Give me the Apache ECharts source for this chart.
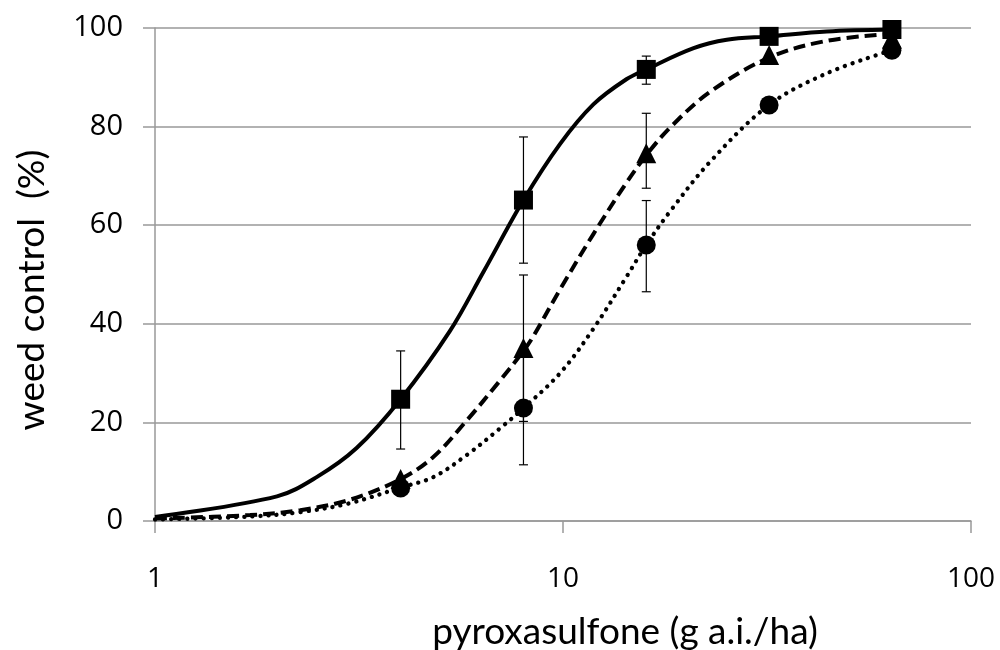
<!DOCTYPE html>
<html>
<head>
<meta charset="utf-8">
<script src="https://cdn.jsdelivr.net/npm/echarts@6/dist/echarts.min.js"></script>
<style>html,body{margin:0;padding:0;background:#fff;}#c{width:1000px;height:650px;}</style>
</head>
<body>
<div id="c"></div>
<script>
// Observed data points
var doses = [4, 8, 16, 32, 64];
var squareY = [24.7, 65.1, 91.6, 98.3, 99.7];
var triY = [8.5, 35.1, 74.6, 94.5, 97.8];
var circY = [6.7, 22.9, 56.0, 84.4, 95.5];

// Error bars (low, high); null = not visible
var squareLo = [14.6, 52.3, 88.6, null, null];
var squareHi = [34.5, 77.9, 94.3, null, null];
var triLo = [null, 20.2, 67.5, null, null];
var triHi = [null, 49.9, 82.7, null, null];
var circLo = [null, 11.4, 46.5, null, null];
var circHi = [null, 34.5, 65.0, null, null];

// Fitted curves
var solidX = [1, 1.99, 2.49, 3.12, 4, 5.28, 6.38, 8, 9.84, 11.87, 14.3, 16, 20.9, 25.2, 32, 44.3, 64];
var solidY = [0.8, 5.0, 8.9, 14.8, 24.7, 38.5, 50.5, 65.1, 76.5, 84.5, 89.6, 91.6, 95.9, 97.6, 98.3, 99.3, 99.7];
var dashX = [1, 1.71, 2.27, 3.0, 4, 4.81, 5.81, 7.01, 8, 8.46, 9.84, 11.87, 14.3, 16, 18.3, 22.9, 32, 44.3, 64];
var dashY = [0.5, 1.2, 2.2, 4.3, 8.5, 13.0, 20.4, 28.5, 34.5, 37.5, 47.0, 58.2, 68.6, 74.2, 79.8, 87.0, 94.0, 97.4, 98.8];
var dotX = [1, 1.71, 2.27, 3.0, 4, 4.81, 5.81, 7.01, 8, 9.84, 11.87, 14.3, 16, 18.3, 22.9, 32, 44.3, 64];
var dotY = [0.3, 0.9, 1.8, 3.6, 6.8, 8.9, 13.4, 18.8, 22.9, 30.0, 39.0, 49.5, 56.0, 62.8, 72.8, 84.4, 90.8, 95.5];

var yTicks = [0, 20, 40, 60, 80, 100];
var xTicks = [1, 10, 100];
var xTitle = 'pyroxasulfone (g a.i./ha)';
var yTitle = 'weed control  (%)';

function pairs(xs, ys) { return xs.map(function (x, i) { return [x, ys[i]]; }); }
function errData(lo, hi) {
  var out = [];
  doses.forEach(function (d, i) { if (lo[i] != null) out.push([d, lo[i], hi[i]]); });
  return out;
}
function errSeries(lo, hi) {
  return {
    type: 'custom',
    data: errData(lo, hi),
    z: 2,
    silent: true,
    renderItem: function (params, api) {
      var x = api.value(0);
      var a = api.coord([x, api.value(1)]);
      var b = api.coord([x, api.value(2)]);
      var w = 4.5;
      var st = { stroke: '#000', lineWidth: 1.2 };
      return {
        type: 'group',
        children: [
          { type: 'line', shape: { x1: a[0], y1: a[1], x2: b[0], y2: b[1] }, style: st },
          { type: 'line', shape: { x1: a[0] - w, y1: a[1], x2: a[0] + w, y2: a[1] }, style: st },
          { type: 'line', shape: { x1: b[0] - w, y1: b[1], x2: b[0] + w, y2: b[1] }, style: st }
        ]
      };
    }
  };
}

var chart = echarts.init(document.getElementById('c'));
chart.setOption({
  animation: false,
  backgroundColor: '#fff',
  grid: { left: 155, right: 29, top: 28, bottom: 129 },
  xAxis: {
    type: 'log', logBase: 10, min: 1, max: 100,
    axisLine: { show: true, lineStyle: { color: '#999', width: 1.5 } },
    axisTick: { show: true, length: 12, lineStyle: { color: '#999', width: 1.5 } },
    minorTick: { show: false },
    splitLine: { show: false },
    axisLabel: {
      margin: 44, color: '#000', fontSize: 28, fontFamily: 'Open Sans',
      formatter: function (v) { return xTicks.indexOf(Math.round(v)) >= 0 ? String(Math.round(v)) : ''; }
    }
  },
  yAxis: {
    type: 'value', min: 0, max: 100, interval: 20,
    axisLine: { show: true, lineStyle: { color: '#999', width: 1.5 } },
    axisTick: { show: true, length: 12, lineStyle: { color: '#999', width: 1.5 } },
    splitLine: { show: true, lineStyle: { color: '#999', width: 1.5 } },
    axisLabel: { margin: 32, color: '#000', fontSize: 29, fontFamily: 'Open Sans' }
  },
  graphic: [
    { type: 'text', x: 625, y: 632,
      style: { text: xTitle, fontSize: 37, fontFamily: 'Lato', fill: '#000', align: 'center', verticalAlign: 'middle' } },
    { type: 'text', x: 32, y: 290, rotation: Math.PI / 2,
      style: { text: yTitle, fontSize: 37, fontFamily: 'Lato', fill: '#000', align: 'center', verticalAlign: 'middle' } }
  ],
  series: [
    { type: 'line', data: pairs(solidX, solidY), smooth: 0.35, showSymbol: false, z: 3,
      lineStyle: { color: '#000', width: 4 } },
    { type: 'line', data: pairs(dashX, dashY), smooth: 0.35, showSymbol: false, z: 3,
      lineStyle: { color: '#000', width: 4, type: [12, 6] } },
    { type: 'line', data: pairs(dotX, dotY), smooth: 0.35, showSymbol: false, z: 3,
      lineStyle: { color: '#000', width: 4.3, type: [0.1, 8], cap: 'round' } },
    errSeries(squareLo, squareHi),
    errSeries(triLo, triHi),
    errSeries(circLo, circHi),
    { type: 'scatter', data: pairs(doses, circY), symbol: 'circle', symbolSize: 19, z: 4,
      itemStyle: { color: '#000', opacity: 1 } },
    { type: 'scatter', data: pairs(doses, triY), symbol: 'triangle', symbolSize: 20, z: 4,
      itemStyle: { color: '#000', opacity: 1 } },
    { type: 'scatter', data: pairs(doses, squareY), symbol: 'rect', symbolSize: 19, z: 4,
      itemStyle: { color: '#000', opacity: 1 } }
  ]
});
</script>
</body>
</html>
